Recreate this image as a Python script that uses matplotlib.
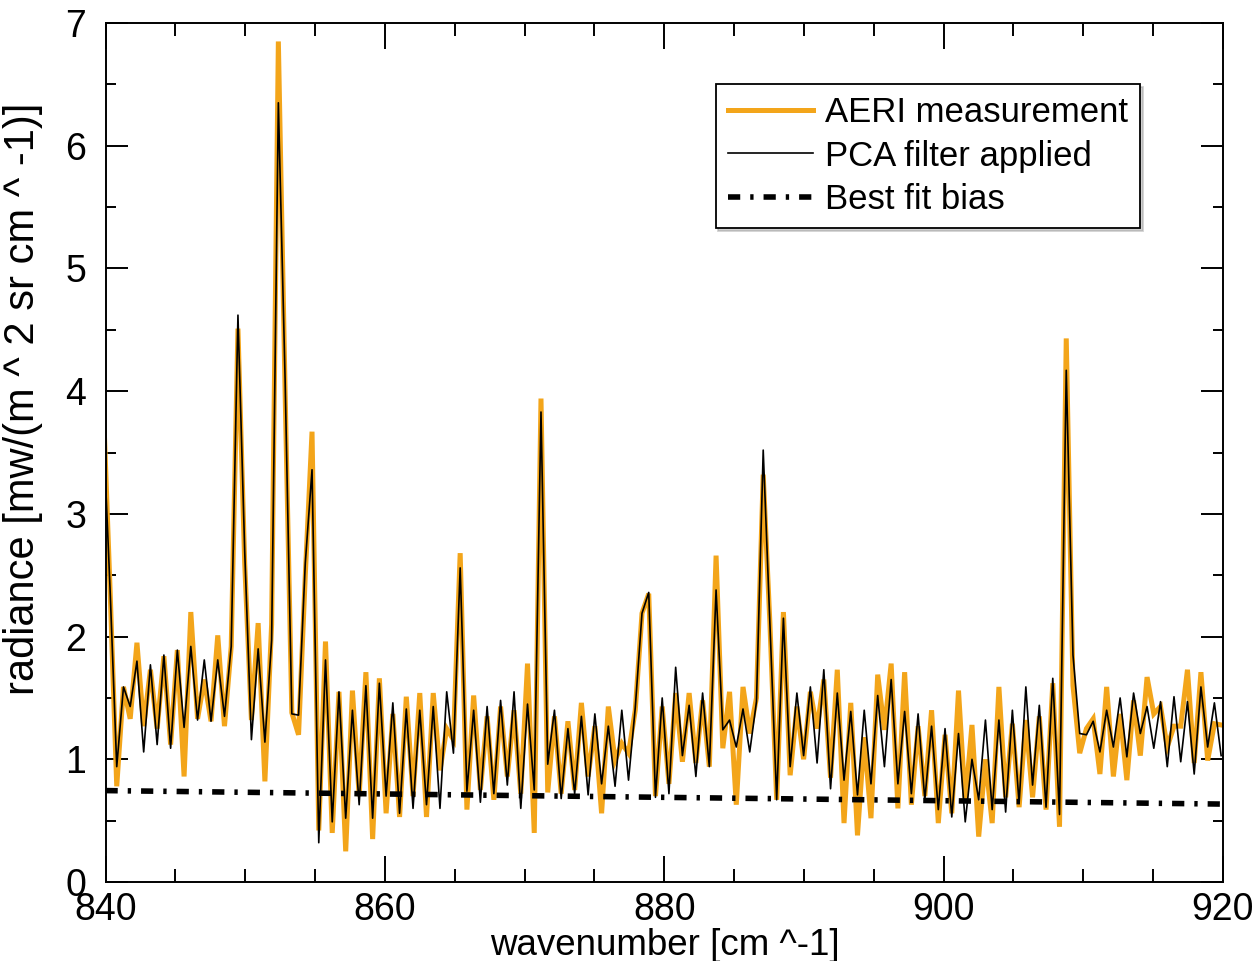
#!/usr/bin/env python3
"""AERI radiance residual spectrum with PCA-filtered curve and best-fit bias."""

import matplotlib

matplotlib.use("Agg")
import matplotlib.pyplot as plt
from matplotlib.ticker import MultipleLocator
import numpy as np


# AERI spectral grid (cm^-1), first sample sits just left of the plot edge.
WN_START = 839.84
WN_STEP = 0.4821

aeri = [
    3.90, 2.40, 0.78, 1.59, 1.33, 1.95, 1.27, 1.73, 1.25, 1.84,
    1.12, 1.89, 0.86, 2.20, 1.33, 1.65, 1.31, 2.01, 1.27, 1.92,
    4.51, 2.60, 1.32, 2.11, 0.82, 2.10, 6.85, 4.00, 1.38, 1.20,
    2.50, 3.67, 0.42, 1.96, 0.40, 1.55, 0.25, 1.56, 0.70, 1.71,
    0.35, 1.66, 0.56, 1.37, 0.53, 1.51, 0.70, 1.54, 0.53, 1.54,
    0.91, 1.25, 1.16, 2.68, 0.59, 1.52, 0.75, 1.35, 0.67, 1.43,
    0.86, 1.40, 0.72, 1.78, 0.40, 3.94, 0.73, 1.35, 0.72, 1.31,
    0.75, 1.46, 0.86, 1.27, 0.56, 1.43, 0.99, 1.13, 1.05, 1.40,
    2.19, 2.35, 0.70, 1.43, 0.80, 1.54, 0.98, 1.54, 0.97, 1.48,
    0.94, 2.66, 1.09, 1.55, 0.63, 1.59, 1.21, 1.50, 3.32, 2.10,
    0.67, 2.20, 0.87, 1.43, 1.00, 1.55, 1.25, 1.65, 0.85, 1.73,
    0.48, 1.46, 0.38, 1.18, 0.52, 1.69, 1.24, 1.78, 0.60, 1.71,
    0.63, 1.27, 0.70, 1.40, 0.48, 1.20, 0.56, 1.56, 0.65, 1.28,
    0.37, 1.00, 0.48, 1.59, 0.69, 1.29, 0.61, 1.32, 0.69, 1.35,
    0.59, 1.62, 0.45, 4.43, 1.60, 1.05, 1.25, 1.33, 0.88, 1.59,
    0.86, 1.37, 0.83, 1.48, 1.03, 1.67, 1.37, 1.43, 1.10, 1.27,
    1.27, 1.73, 0.97, 1.71, 0.99, 1.29, 1.28,
]

pca = [
    3.70, 2.40, 0.94, 1.59, 1.43, 1.80, 1.06, 1.77, 1.12, 1.85,
    1.09, 1.89, 1.26, 1.92, 1.32, 1.81, 1.31, 1.81, 1.35, 1.92,
    4.62, 2.70, 1.16, 1.90, 1.14, 1.97, 6.35, 4.10, 1.37, 1.36,
    2.60, 3.36, 0.32, 1.81, 0.49, 1.55, 0.52, 1.40, 0.63, 1.60,
    0.52, 1.62, 0.70, 1.46, 0.56, 1.41, 0.60, 1.40, 0.63, 1.43,
    0.60, 1.55, 1.05, 2.56, 0.74, 1.40, 0.65, 1.43, 0.72, 1.48,
    0.79, 1.55, 0.60, 1.45, 0.75, 3.83, 0.96, 1.40, 0.68, 1.25,
    0.72, 1.35, 0.71, 1.37, 0.80, 1.27, 0.78, 1.40, 0.83, 1.42,
    2.19, 2.36, 0.69, 1.50, 0.72, 1.75, 1.03, 1.44, 0.86, 1.54,
    0.94, 2.38, 1.24, 1.32, 1.10, 1.41, 1.06, 1.47, 3.52, 2.10,
    0.67, 2.15, 0.94, 1.54, 1.03, 1.59, 0.97, 1.73, 0.76, 1.54,
    0.83, 1.39, 0.71, 1.40, 0.80, 1.52, 0.94, 1.65, 0.80, 1.39,
    0.72, 1.37, 0.67, 1.27, 0.59, 1.25, 0.53, 1.21, 0.49, 1.00,
    0.67, 1.32, 0.59, 1.32, 0.57, 1.40, 0.64, 1.59, 0.79, 1.44,
    0.61, 1.66, 0.55, 4.17, 1.85, 1.21, 1.20, 1.31, 1.06, 1.40,
    1.10, 1.50, 1.02, 1.54, 1.21, 1.43, 1.09, 1.47, 0.94, 1.51,
    0.98, 1.47, 0.88, 1.59, 1.10, 1.46, 1.03,
]

# best fit bias, end points over the plotted range
bias_wn = [840.0, 920.0]
bias_val = [0.745, 0.635]

ORANGE = "#F3A51A"


def style():
  plt.rcParams.update({
      "font.family": ["Liberation Sans", "DejaVu Sans"],
      "font.size": 26,
      "axes.linewidth": 1.4,
  })


def main():
  style()
  wn = WN_START + WN_STEP * np.arange(len(aeri))

  fig = plt.figure(figsize=(12.56, 9.61), dpi=100)
  ax = fig.add_axes([0.084, 0.0822, 0.8897, 0.8938])

  ax.plot(wn, aeri, color=ORANGE, linewidth=3.6, label="AERI measurement",
          solid_joinstyle="miter")
  ax.plot(wn, pca, color="black", linewidth=1.2, label="PCA filter applied")
  ax.plot(bias_wn, bias_val, color="black", linewidth=4.0,
          linestyle=(0, (2.2, 1.8, 0.6, 1.8)), label="Best fit bias")

  ax.set_xlim(840, 920)
  ax.set_ylim(0, 7)
  ax.xaxis.set_major_locator(MultipleLocator(20))
  ax.xaxis.set_minor_locator(MultipleLocator(5))
  ax.yaxis.set_major_locator(MultipleLocator(1))
  ax.yaxis.set_minor_locator(MultipleLocator(0.5))
  ax.tick_params(which="both", direction="in", top=True, right=True,
                 width=1.4, labelsize=27)
  ax.tick_params(axis="x", which="major", length=18.7, pad=7)
  ax.tick_params(axis="x", which="minor", length=9.4)
  ax.tick_params(axis="y", which="major", length=15.8, pad=14)
  ax.tick_params(axis="y", which="minor", length=7.2)

  fig.text(0.529, 0.006, "wavenumber [cm ^-1]", ha="center",
           va="baseline", fontsize=26.5)
  fig.text(0.018, 0.585, "radiance [mw/(m ^ 2 sr cm ^ -1)]", ha="center",
           va="center", rotation=90, fontsize=30)

  leg = ax.legend(loc="upper left", bbox_to_anchor=(0.546, 0.929),
                  borderaxespad=0, fontsize=25, handlelength=2.45,
                  handletextpad=0.35, borderpad=0.35, labelspacing=0.3,
                  fancybox=False, framealpha=1,
                  shadow={"color": "0.6", "alpha": 0.45})
  leg.get_frame().set_edgecolor("black")
  leg.get_frame().set_linewidth(1.3)

  fig.savefig("out.png", dpi=100)
  plt.close(fig)


if __name__ == "__main__":
  main()
